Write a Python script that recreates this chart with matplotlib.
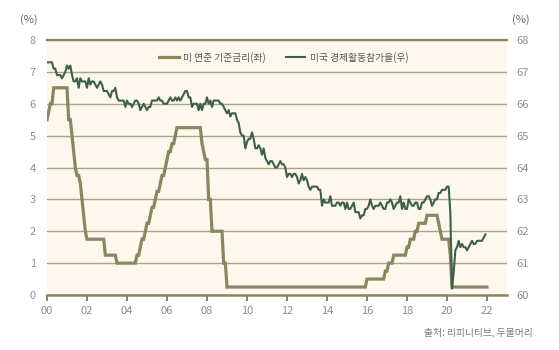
import numpy as np
import matplotlib.pyplot as plt

plt.rcParams['font.family'] = ['Noto Sans CJK KR', 'DejaVu Sans']

# 미 연준 기준금리 (월별, %)
fed_2000 = [5.5, 5.75, 6.0, 6.0, 6.5, 6.5, 6.5, 6.5, 6.5, 6.5, 6.5, 6.5]
fed_2001 = [6.5, 5.5, 5.5, 5.0, 4.5, 4.0, 3.75, 3.75, 3.5, 3.0, 2.5, 2.0]
fed_2002 = [1.75, 1.75, 1.75, 1.75, 1.75, 1.75, 1.75, 1.75, 1.75, 1.75, 1.75, 1.25]
fed_2003 = [1.25, 1.25, 1.25, 1.25, 1.25, 1.25, 1.0, 1.0, 1.0, 1.0, 1.0, 1.0]
fed_2004 = [1.0, 1.0, 1.0, 1.0, 1.0, 1.0, 1.25, 1.25, 1.5, 1.75, 1.75, 2.0]
fed_2005 = [2.25, 2.25, 2.5, 2.75, 2.75, 3.0, 3.25, 3.25, 3.5, 3.75, 3.75, 4.0]
fed_2006 = [4.25, 4.5, 4.5, 4.75, 4.75, 5.0, 5.25, 5.25, 5.25, 5.25, 5.25, 5.25]
fed_2007 = [5.25, 5.25, 5.25, 5.25, 5.25, 5.25, 5.25, 5.25, 5.25, 4.75, 4.5, 4.25]
fed_2008 = [4.25, 3.0, 3.0, 2.0, 2.0, 2.0, 2.0, 2.0, 2.0, 2.0, 1.0, 1.0]
fed_2009 = [0.25, 0.25, 0.25, 0.25, 0.25, 0.25, 0.25, 0.25, 0.25, 0.25, 0.25, 0.25]
fed_2010 = [0.25, 0.25, 0.25, 0.25, 0.25, 0.25, 0.25, 0.25, 0.25, 0.25, 0.25, 0.25]
fed_2011 = [0.25, 0.25, 0.25, 0.25, 0.25, 0.25, 0.25, 0.25, 0.25, 0.25, 0.25, 0.25]
fed_2012 = [0.25, 0.25, 0.25, 0.25, 0.25, 0.25, 0.25, 0.25, 0.25, 0.25, 0.25, 0.25]
fed_2013 = [0.25, 0.25, 0.25, 0.25, 0.25, 0.25, 0.25, 0.25, 0.25, 0.25, 0.25, 0.25]
fed_2014 = [0.25, 0.25, 0.25, 0.25, 0.25, 0.25, 0.25, 0.25, 0.25, 0.25, 0.25, 0.25]
fed_2015 = [0.25, 0.25, 0.25, 0.25, 0.25, 0.25, 0.25, 0.25, 0.25, 0.25, 0.25, 0.25]
fed_2016 = [0.5, 0.5, 0.5, 0.5, 0.5, 0.5, 0.5, 0.5, 0.5, 0.5, 0.5, 0.75]
fed_2017 = [0.75, 1.0, 1.0, 1.0, 1.25, 1.25, 1.25, 1.25, 1.25, 1.25, 1.25, 1.25]
fed_2018 = [1.5, 1.5, 1.75, 1.75, 1.75, 2.0, 2.0, 2.25, 2.25, 2.25, 2.25, 2.25]
fed_2019 = [2.5, 2.5, 2.5, 2.5, 2.5, 2.5, 2.5, 2.25, 2.0, 1.75, 1.75, 1.75]
fed_2020 = [1.75, 1.75, 1.25, 0.25, 0.25, 0.25, 0.25, 0.25, 0.25, 0.25, 0.25, 0.25]
fed_2021 = [0.25, 0.25, 0.25, 0.25, 0.25, 0.25, 0.25, 0.25, 0.25, 0.25, 0.25, 0.25]
fed_2022 = [0.25]

# 미국 경제활동참가율 (월별, %)
lfpr_2000 = [67.3, 67.3, 67.3, 67.3, 67.1, 67.1, 66.9, 66.9, 66.9, 66.8, 66.9, 67.0]
lfpr_2001 = [67.2, 67.1, 67.2, 66.9, 66.7, 66.7, 66.8, 66.5, 66.8, 66.7, 66.7, 66.7]
lfpr_2002 = [66.5, 66.8, 66.6, 66.7, 66.7, 66.6, 66.5, 66.6, 66.7, 66.6, 66.4, 66.4]
lfpr_2003 = [66.4, 66.3, 66.2, 66.4, 66.4, 66.5, 66.2, 66.1, 66.1, 66.1, 66.1, 65.9]
lfpr_2004 = [66.1, 66.0, 66.0, 65.9, 66.0, 66.1, 66.1, 66.0, 65.8, 65.9, 66.0, 65.9]
lfpr_2005 = [65.8, 65.9, 65.9, 66.1, 66.1, 66.1, 66.1, 66.2, 66.1, 66.1, 66.0, 66.0]
lfpr_2006 = [66.0, 66.1, 66.2, 66.1, 66.1, 66.2, 66.1, 66.2, 66.1, 66.2, 66.3, 66.4]
lfpr_2007 = [66.4, 66.2, 66.2, 65.9, 66.0, 66.0, 66.0, 65.8, 66.0, 65.8, 66.0, 66.0]
lfpr_2008 = [66.2, 66.0, 66.1, 65.9, 66.1, 66.1, 66.1, 66.1, 66.0, 66.0, 65.9, 65.8]
lfpr_2009 = [65.7, 65.8, 65.6, 65.7, 65.7, 65.7, 65.5, 65.4, 65.1, 65.0, 65.0, 64.6]
lfpr_2010 = [64.8, 64.9, 64.9, 65.1, 64.9, 64.6, 64.6, 64.7, 64.6, 64.4, 64.6, 64.3]
lfpr_2011 = [64.2, 64.1, 64.2, 64.2, 64.1, 64.0, 64.0, 64.1, 64.2, 64.1, 64.1, 64.0]
lfpr_2012 = [63.7, 63.8, 63.8, 63.7, 63.8, 63.8, 63.7, 63.5, 63.6, 63.8, 63.6, 63.7]
lfpr_2013 = [63.6, 63.4, 63.3, 63.4, 63.4, 63.4, 63.4, 63.3, 63.3, 62.8, 63.0, 62.9]
lfpr_2014 = [62.9, 62.9, 63.1, 62.8, 62.8, 62.8, 62.9, 62.9, 62.8, 62.9, 62.9, 62.7]
lfpr_2015 = [62.9, 62.7, 62.7, 62.8, 62.9, 62.6, 62.6, 62.6, 62.4, 62.5, 62.5, 62.7]
lfpr_2016 = [62.7, 62.8, 63.0, 62.8, 62.7, 62.8, 62.8, 62.8, 62.9, 62.8, 62.7, 62.7]
lfpr_2017 = [62.9, 62.9, 63.0, 62.9, 62.7, 62.8, 62.9, 62.9, 63.1, 62.7, 62.9, 62.7]
lfpr_2018 = [62.7, 63.0, 62.9, 62.8, 62.8, 62.9, 62.9, 62.7, 62.7, 62.9, 62.9, 63.0]
lfpr_2019 = [63.1, 63.1, 63.0, 62.8, 62.9, 63.0, 63.0, 63.2, 63.2, 63.3, 63.3, 63.3]
lfpr_2020 = [63.4, 63.4, 62.6, 60.2, 60.7, 61.4, 61.5, 61.7, 61.5, 61.6, 61.5, 61.5]
lfpr_2021 = [61.4, 61.5, 61.6, 61.7, 61.6, 61.6, 61.7, 61.7, 61.7, 61.7, 61.8, 61.9]

start_year = 2000
tick_years = [2000, 2002, 2004, 2006, 2008, 2010, 2012, 2014, 2016, 2018, 2020, 2022]
tick_labels = ['00', '02', '04', '06', '08', '10', '12', '14', '16', '18', '20', '22']
label_fed = '미 연준 기준금리(좌)'
label_lfpr = '미국 경제활동참가율(우)'
source = '출처: 리피니티브, 두물머리'

fed = (fed_2000 + fed_2001 + fed_2002 + fed_2003 + fed_2004 + fed_2005 + fed_2006
       + fed_2007 + fed_2008 + fed_2009 + fed_2010 + fed_2011 + fed_2012 + fed_2013
       + fed_2014 + fed_2015 + fed_2016 + fed_2017 + fed_2018 + fed_2019 + fed_2020
       + fed_2021 + fed_2022)
lfpr = (lfpr_2000 + lfpr_2001 + lfpr_2002 + lfpr_2003 + lfpr_2004 + lfpr_2005
        + lfpr_2006 + lfpr_2007 + lfpr_2008 + lfpr_2009 + lfpr_2010 + lfpr_2011
        + lfpr_2012 + lfpr_2013 + lfpr_2014 + lfpr_2015 + lfpr_2016 + lfpr_2017
        + lfpr_2018 + lfpr_2019 + lfpr_2020 + lfpr_2021)

x_fed = start_year + np.arange(len(fed)) / 12
x_lfpr = start_year + np.arange(len(lfpr)) / 12

olive = '#8b8562'
green = '#3f5f4b'
grid_c = '#aaa384'
txt_c = '#8e8e8e'

fig = plt.figure(figsize=(5.59, 3.5), dpi=100)
ax = fig.add_axes([47 / 559, 1 - 295 / 350, 460 / 559, 255 / 350])
ax.set_facecolor('#fdf8ee')
ax2 = ax.twinx()

l1, = ax.plot(x_fed, fed, color=olive, lw=2.3, solid_joinstyle='miter')
l2, = ax2.plot(x_lfpr, lfpr, color=green, lw=1.5)

ax.set_xlim(2000, 2023)
ax.set_ylim(0, 8)
ax2.set_ylim(60, 68)
ax.set_yticks(range(0, 9))
ax2.set_yticks(range(60, 69))
ax.set_xticks(tick_years)
ax.set_xticklabels(tick_labels)

ax.set_axisbelow(True)
ax.yaxis.grid(True, color=grid_c, lw=1.0)

for a in (ax, ax2):
    for s in ('left', 'right', 'top', 'bottom'):
        a.spines[s].set_visible(False)
ax.spines['top'].set_visible(True)
ax.spines['top'].set_color('#8a8463')
ax.spines['top'].set_linewidth(1.6)
ax.spines['bottom'].set_visible(True)
ax.spines['bottom'].set_color('#8a8463')
ax.spines['bottom'].set_linewidth(1.8)

ax.tick_params(axis='y', length=0, pad=8, labelsize=8, labelcolor=txt_c)
ax2.tick_params(axis='y', length=0, pad=7, labelsize=8, labelcolor=txt_c)
ax.tick_params(axis='x', direction='out', length=4, width=1.5, color='#8a8463',
               pad=4, labelsize=8, labelcolor=txt_c)

leg = ax2.legend([l1, l2], [label_fed, label_lfpr], loc='center',
                 bbox_to_anchor=(0.515, 0.933), ncol=2, frameon=False,
                 fontsize=7, handlelength=2.0, handletextpad=0.5,
                 columnspacing=2.0)
for t in leg.get_texts():
    t.set_color('#555555')

fig.text(29 / 559, 1 - 20 / 350, '(%)', ha='center', va='center', fontsize=8, color='#666666')
fig.text(521 / 559, 1 - 20 / 350, '(%)', ha='center', va='center', fontsize=8, color='#666666')
fig.text(533 / 559, 1 - 333 / 350, source, ha='right', va='center', fontsize=7, color='#777777')

fig.savefig('out.png', dpi=100)
